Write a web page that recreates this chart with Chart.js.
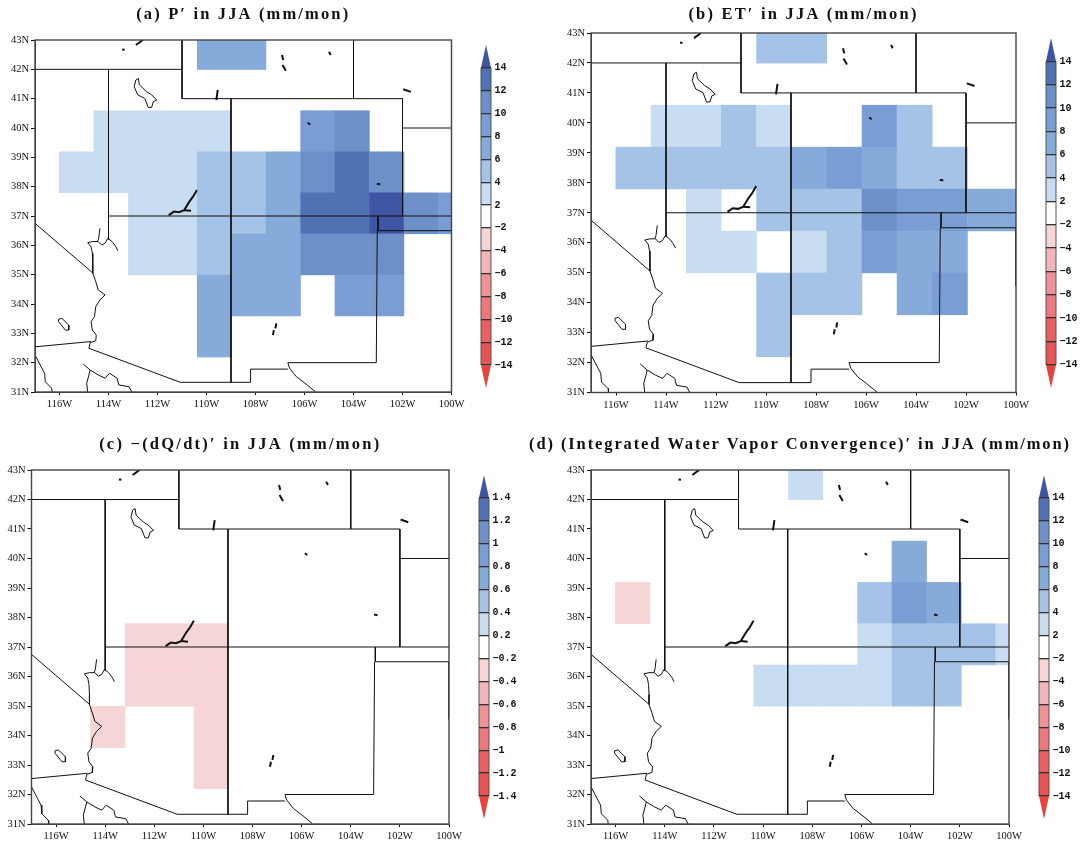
<!DOCTYPE html>
<html>
<head>
<meta charset="utf-8">
<script src="https://cdn.jsdelivr.net/npm/chart.js@4"></script>
<style>
  body { margin: 0; background: #fff; }
  canvas { position: absolute; }
</style>
</head>
<body>
<script>
// grid cell edges (about 1.4 degrees)
const gridLon = [-117.42, -116.02, -114.61, -113.20, -111.80, -110.39, -108.98, -107.58, -106.17, -104.77, -103.36, -101.95, -100.55, -99.14];
const gridLat = [43.4, 42.0, 40.6, 39.2, 37.8, 36.4, 35.0, 33.6, 32.2];

const lonTicks = [-116, -114, -112, -110, -108, -106, -104, -102, -100];
const lonLabels = ["116W", "114W", "112W", "110W", "108W", "106W", "104W", "102W", "100W"];
const latTicks = [31, 32, 33, 34, 35, 36, 37, 38, 39, 40, 41, 42, 43];
const latLabels = ["31N", "32N", "33N", "34N", "35N", "36N", "37N", "38N", "39N", "40N", "41N", "42N", "43N"];

// values per grid cell, mm/mon, north to south
const precip = [
  [0, 0, 0, 0, 0, 7, 7, 0, 0, 0, 0, 0, 0],
  [0, 0, 0, 0, 0, 0, 0, 0, 0, 0, 0, 0, 0],
  [0, 0, 3, 3, 3, 3, 0, 0, 9, 11, 0, 0, 0],
  [0, 3, 3, 3, 3, 5, 5, 7, 11, 13, 11, 0, 0],
  [0, 0, 0, 3, 3, 5, 5, 7, 13, 13, 15, 11, 9],
  [0, 0, 0, 3, 3, 5, 7, 7, 11, 11, 11, 0, 0],
  [0, 0, 0, 0, 0, 7, 7, 7, 0, 9, 9, 0, 0],
  [0, 0, 0, 0, 0, 7, 0, 0, 0, 0, 0, 0, 0]
];
const evap = [
  [0, 0, 0, 0, 0, 5, 5, 0, 0, 0, 0, 0, 0],
  [0, 0, 0, 0, 0, 0, 0, 0, 0, 0, 0, 0, 0],
  [0, 0, 3, 3, 5, 3, 0, 0, 9, 5, 0, 0, 0],
  [0, 5, 5, 5, 5, 5, 7, 9, 7, 5, 5, 0, 0],
  [0, 0, 0, 3, 0, 5, 5, 5, 11, 9, 9, 7, 7],
  [0, 0, 0, 3, 3, 0, 3, 5, 9, 7, 7, 0, 0],
  [0, 0, 0, 0, 0, 5, 5, 5, 0, 7, 9, 0, 0],
  [0, 0, 0, 0, 0, 5, 0, 0, 0, 0, 0, 0, 0]
];
const storage = [
  [0, 0, 0, 0, 0, 0, 0, 0, 0, 0, 0, 0, 0],
  [0, 0, 0, 0, 0, 0, 0, 0, 0, 0, 0, 0, 0],
  [0, 0, 0, 0, 0, 0, 0, 0, 0, 0, 0, 0, 0],
  [0, 0, 0, 0, 0, 0, 0, 0, 0, 0, 0, 0, 0],
  [0, 0, 0, -0.3, -0.3, -0.3, 0, 0, 0, 0, 0, 0, 0],
  [0, 0, 0, -0.3, -0.3, -0.3, 0, 0, 0, 0, 0, 0, 0],
  [0, 0, -0.3, 0, 0, -0.3, 0, 0, 0, 0, 0, 0, 0],
  [0, 0, 0, 0, 0, -0.3, 0, 0, 0, 0, 0, 0, 0]
];
const convergence = [
  [0, 0, 0, 0, 0, 0, 3, 0, 0, 0, 0, 0, 0],
  [0, 0, 0, 0, 0, 0, 0, 0, 0, 0, 0, 0, 0],
  [0, 0, 0, 0, 0, 0, 0, 0, 0, 7, 0, 0, 0],
  [0, -3, 0, 0, 0, 0, 0, 0, 5, 9, 7, 0, 0],
  [0, 0, 0, 0, 0, 0, 0, 0, 3, 5, 5, 5, 3],
  [0, 0, 0, 0, 0, 3, 3, 3, 3, 5, 5, 0, 0],
  [0, 0, 0, 0, 0, 0, 0, 0, 0, 0, 0, 0, 0],
  [0, 0, 0, 0, 0, 0, 0, 0, 0, 0, 0, 0, 0]
];

// colour bar, lowest class first
const cbarColors = ["#e8433e", "#e95353", "#ea5f62", "#ed777b", "#ef9296", "#f4b5b8", "#f6d5d6", "#ffffff",
  "#c9ddf2", "#a5c3e6", "#86aad9", "#7a9dd3", "#6d90c9", "#5171b5", "#3f54a3"];
const levelsWide = [-14, -12, -10, -8, -6, -4, -2, 2, 4, 6, 8, 10, 12, 14];
const labelsWide = ["−14", "−12", "−10", "−8", "−6", "−4", "−2", "2", "4", "6", "8", "10", "12", "14"];
const levelsFine = [-1.4, -1.2, -1, -0.8, -0.6, -0.4, -0.2, 0.2, 0.4, 0.6, 0.8, 1, 1.2, 1.4];
const labelsFine = ["−1.4", "−1.2", "−1", "−0.8", "−0.6", "−0.4", "−0.2", "0.2", "0.4", "0.6", "0.8", "1", "1.2", "1.4"];

// map outlines, [lon, lat]
const stateLines = [
  [[-117, 42], [-111, 42]],
  [[-111, 43], [-111, 41], [-102, 41], [-102, 37]],
  [[-104, 43], [-104, 41]],
  [[-102, 40], [-100, 40]],
  [[-114, 42], [-114, 36.2]],
  [[-114, 37], [-100, 37]],
  [[-109, 41], [-109, 31.33]],
  [[-103, 37], [-103, 36.5], [-100, 36.5], [-100, 34.55]],
  [[-103.03, 36.5], [-103.07, 32], [-106.68, 32]],
  [[-117, 36.75], [-114.63, 35.05]],
  [[-117, 32.54], [-114.72, 32.72]],
  [[-114.8, 32.49], [-111.07, 31.33], [-108.2, 31.33], [-108.2, 31.78], [-106.68, 31.78]]
];
const riverLines = [
  [[-113.62, 35.82], [-113.72, 35.98], [-113.86, 36.13], [-114.03, 36.24], [-114.14, 36.07], [-114.28, 36.01], [-114.42, 36.13], [-114.64, 36.13], [-114.85, 36.09], [-114.71, 35.95], [-114.66, 35.73], [-114.64, 35.39], [-114.64, 35.05], [-114.52, 34.76], [-114.42, 34.48], [-114.14, 34.31], [-114.35, 34.14], [-114.52, 33.91], [-114.57, 33.57], [-114.71, 33.40], [-114.66, 33.11], [-114.50, 32.94], [-114.52, 32.75], [-114.75, 32.68], [-114.80, 32.49]],
  [[-114.35, 36.58], [-114.40, 36.24], [-114.45, 36.13]],
  [[-106.68, 32], [-106.61, 31.81], [-106.33, 31.52], [-105.98, 31.30], [-105.56, 31.01]],
  [[-117, 32.26], [-116.75, 31.86], [-116.61, 31.64], [-116.58, 31.35], [-116.32, 31.13], [-116.3, 31.0]],
  [[-115.03, 31.95], [-114.75, 31.75], [-114.8, 31.58], [-114.89, 31.30], [-114.85, 31.0]],
  [[-114.75, 31.75], [-114.42, 31.58], [-114.14, 31.47], [-113.96, 31.64], [-113.65, 31.47], [-113.58, 31.24], [-113.16, 31.18], [-113.05, 31.0]]
];
const lakeLines = [
  [[-112.88, 41.64], [-112.78, 41.69], [-112.74, 41.47], [-112.45, 41.24], [-112.24, 41.13], [-112.03, 40.95], [-112.17, 40.90], [-112.24, 40.70], [-112.38, 40.70], [-112.52, 41.01], [-112.81, 41.13], [-112.95, 41.41], [-112.88, 41.64]],
  [[-116.04, 33.48], [-115.90, 33.51], [-115.62, 33.28], [-115.62, 33.11], [-115.76, 33.11], [-116.04, 33.40], [-116.04, 33.48]]
];
const smallLakes = [
  [[-111.54, 37.03], [-111.33, 37.15], [-111.12, 37.13], [-110.91, 37.20], [-110.70, 37.49], [-110.55, 37.66], [-110.39, 37.89]],
  [[-110.91, 37.20], [-110.63, 37.18]],
  [[-112.88, 42.83], [-112.60, 43.0]],
  [[-113.44, 42.68], [-113.34, 42.67]],
  [[-106.92, 42.49], [-106.87, 42.32]],
  [[-106.90, 42.15], [-106.76, 41.95]],
  [[-105.0, 42.60], [-104.93, 42.49]],
  [[-109.54, 41.30], [-109.60, 40.95]],
  [[-101.97, 41.32], [-101.66, 41.23]],
  [[-105.87, 40.18], [-105.77, 40.12]],
  [[-103.05, 38.10], [-102.91, 38.08]],
  [[-107.15, 33.34], [-107.19, 33.17]],
  [[-107.25, 33.11], [-107.29, 32.94]]
];

const tickFont = { family: "'Liberation Serif', serif", size: 10.5 };
const inkColor = "#111";

function colorFor(v, levels) {
  if (v === 0) return null;
  let i = 0;
  while (i < levels.length && v >= levels[i]) i++;
  return cbarColors[i];
}

// fills the cells through the chart's scales, under the outlines
const cellPlugin = {
  id: "cells",
  beforeDatasetsDraw(chart, args, opts) {
    const { ctx, chartArea: a, scales: { x, y } } = chart;
    ctx.save();
    ctx.beginPath();
    ctx.rect(a.left, a.top, a.width, a.height);
    ctx.clip();
    opts.values.forEach((row, r) => row.forEach((v, c) => {
      const col = colorFor(v, opts.levels);
      if (!col) return;
      const x0 = x.getPixelForValue(gridLon[c]), x1 = x.getPixelForValue(gridLon[c + 1]);
      const y0 = y.getPixelForValue(gridLat[r]), y1 = y.getPixelForValue(gridLat[r + 1]);
      ctx.fillStyle = col;
      ctx.fillRect(x0, y0, x1 - x0 + 0.5, y1 - y0 + 0.5);
    }));
    ctx.restore();
  },
  afterDatasetsDraw(chart, args, opts) {
    const { ctx, chartArea: a } = chart;
    ctx.save();
    ctx.strokeStyle = "#444";
    ctx.lineWidth = 1.4;
    ctx.strokeRect(a.left, a.top, a.width, a.height);
    // the title goes here so its letters can be spaced out
    ctx.font = "bold 16.5px 'Liberation Serif', serif";
    ctx.fillStyle = "#111";
    ctx.textAlign = "center";
    ctx.textBaseline = "middle";
    ctx.letterSpacing = "0px";
    const natural = ctx.measureText(opts.title).width;
    ctx.letterSpacing = (opts.titleWidth - natural) / (opts.title.length - 1) + "px";
    ctx.fillText(opts.title, (a.left + a.right) / 2, opts.titleY - opts.canvasTop);
    ctx.restore();
  }
};

function outline(points, width) {
  return {
    data: points.map(p => ({ x: p[0], y: p[1] })),
    showLine: true, pointRadius: 0, borderColor: "#111", borderWidth: width, tension: 0
  };
}

function drawMap(box) {
  const canvas = document.createElement("canvas");
  canvas.width = box.width; canvas.height = box.height;
  canvas.style.left = box.left + "px"; canvas.style.top = box.top + "px";
  document.body.appendChild(canvas);
  const yAxisW = 26, xAxisH = 24;
  const datasets = [
    ...stateLines.map(l => outline(l, 1)),
    ...riverLines.map(l => outline(l, 1)),
    ...lakeLines.map(l => outline(l, 1)),
    ...smallLakes.map(l => outline(l, 2))
  ];
  new Chart(canvas, {
    type: "scatter",
    data: { datasets },
    options: {
      responsive: false, animation: false,
      layout: {
        autoPadding: false,
        padding: {
          left: box.plotLeft - box.left - yAxisW,
          right: box.left + box.width - box.plotRight,
          top: box.plotTop - box.top,
          bottom: box.top + box.height - box.plotBottom - xAxisH
        }
      },
      plugins: {
        legend: { display: false },
        tooltip: { enabled: false },
        cells: { values: box.values, levels: box.levels, title: box.title, titleWidth: box.titleWidth, titleY: box.titleY, canvasTop: box.top }
      },
      scales: {
        x: {
          type: "linear", min: -117, max: -100,
          afterBuildTicks: s => { s.ticks = lonTicks.map(v => ({ value: v })); },
          afterFit: s => { s.height = xAxisH; },
          grid: { drawOnChartArea: false, color: inkColor, tickLength: 3 },
          border: { color: "#444" },
          ticks: {
            font: tickFont, color: inkColor, padding: 3, maxRotation: 0, autoSkip: false,
            callback: v => lonLabels[lonTicks.indexOf(v)]
          }
        },
        y: {
          type: "linear", min: 31, max: 43,
          afterBuildTicks: s => { s.ticks = latTicks.map(v => ({ value: v })); },
          afterFit: s => { s.width = yAxisW; },
          grid: { drawOnChartArea: false, color: inkColor, tickLength: 4 },
          border: { color: "#444" },
          ticks: {
            font: tickFont, color: inkColor, padding: 2, autoSkip: false,
            callback: v => latLabels[latTicks.indexOf(v)]
          }
        }
      }
    },
    plugins: [cellPlugin]
  });
}

// end triangles and side edges of the colour bar
const arrowPlugin = {
  id: "arrows",
  afterDatasetsDraw(chart) {
    const { ctx, chartArea: a, scales: { y } } = chart;
    const mid = (a.left + a.right) / 2;
    [[13, 14, cbarColors[14]], [0, -1, cbarColors[0]]].forEach(([base, tip, col]) => {
      ctx.save();
      ctx.beginPath();
      ctx.moveTo(a.left, y.getPixelForValue(base));
      ctx.lineTo(a.right, y.getPixelForValue(base));
      ctx.lineTo(mid, y.getPixelForValue(tip));
      ctx.closePath();
      ctx.fillStyle = col;
      ctx.fill();
      ctx.restore();
    });
    ctx.save();
    ctx.strokeStyle = "#555";
    ctx.lineWidth = 1;
    ctx.beginPath();
    ctx.moveTo(a.left, y.getPixelForValue(13));
    ctx.lineTo(a.left, y.getPixelForValue(0));
    ctx.moveTo(a.right, y.getPixelForValue(13));
    ctx.lineTo(a.right, y.getPixelForValue(0));
    ctx.stroke();
    ctx.restore();
  }
};

function drawBar(box) {
  const canvas = document.createElement("canvas");
  const pad = 12; // room for the first and last tick label, the layout takes at least that
  const width = 60, height = box.bottom - box.top + pad * 2;
  canvas.width = width; canvas.height = height;
  canvas.style.left = box.left + "px"; canvas.style.top = (box.top - pad) + "px";
  document.body.appendChild(canvas);
  const segments = box.labels.slice(1).map((_, i) => ({
    data: [[i, i + 1]],
    backgroundColor: cbarColors[i + 1],
    barPercentage: 1, categoryPercentage: 1, grouped: false
  }));
  new Chart(canvas, {
    type: "bar",
    data: { labels: [""], datasets: segments },
    options: {
      responsive: false, animation: false,
      layout: { autoPadding: false, padding: { left: 1, right: width - 11 - 34, top: pad, bottom: pad } },
      plugins: { legend: { display: false }, tooltip: { enabled: false } },
      scales: {
        x: { display: false },
        y: {
          type: "linear", position: "right", min: -1, max: 14,
          afterBuildTicks: s => { s.ticks = box.labels.map((_, i) => ({ value: i })); },
          afterFit: s => { s.width = 34; },
          grid: { color: "#333", lineWidth: 1.3, drawTicks: false, z: 1 },
          border: { display: false },
          ticks: {
            font: { family: "'Liberation Mono', monospace", size: 10, weight: "bold" }, color: "#111", padding: 3.5, autoSkip: false,
            callback: v => box.labels[v]
          }
        }
      }
    },
    plugins: [arrowPlugin]
  });
}

drawMap({ title: "(a) P′ in JJA (mm/mon)", titleWidth: 212, titleY: 15, values: precip, levels: levelsWide, left: 0, top: 0, width: 488, height: 424,
  plotLeft: 35, plotRight: 451.5, plotTop: 40, plotBottom: 392 });
drawMap({ title: "(b) ET′ in JJA (mm/mon)", titleWidth: 228, titleY: 15, values: evap, levels: levelsWide, left: 540, top: 0, width: 530, height: 424,
  plotLeft: 591, plotRight: 1016, plotTop: 33, plotBottom: 392.5 });
drawMap({ title: "(c) −(dQ/dt)′ in JJA (mm/mon)", titleWidth: 280, titleY: 444.5, values: storage, levels: levelsFine, left: 0, top: 425, width: 484, height: 422,
  plotLeft: 31.5, plotRight: 449, plotTop: 470, plotBottom: 824 });
drawMap({ title: "(d) (Integrated Water Vapor Convergence)′ in JJA (mm/mon)", titleWidth: 540, titleY: 444.5, values: convergence, levels: levelsWide, left: 522, top: 425, width: 559, height: 422,
  plotLeft: 591, plotRight: 1009, plotTop: 470, plotBottom: 824 });

drawBar({ labels: labelsWide, left: 479.5, top: 45, bottom: 388 });
drawBar({ labels: labelsWide, left: 1045, top: 38, bottom: 388 });
drawBar({ labels: labelsFine, left: 477.5, top: 475, bottom: 819 });
drawBar({ labels: labelsWide, left: 1037.5, top: 475, bottom: 819 });
</script>
</body>
</html>
